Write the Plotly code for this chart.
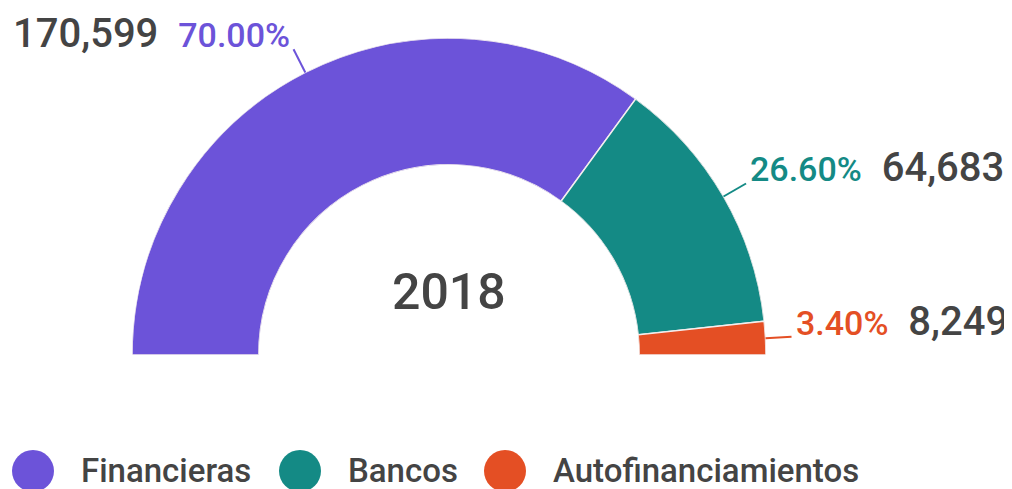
import math
import plotly.graph_objects as go

categories = ["Financieras", "Bancos", "Autofinanciamientos"]
values = [170599, 64683, 8249]
pct_labels = [70.00, 26.60, 3.40]
colors = ["#6c53d9", "#148a85", "#e44f24"]
year_label = "2018"

W, H = 1012, 489
OFF = 8  # the page body adds an 8px margin
cx, cy, R = 449, 355, 317
TXT = "#444444"
FONT = "Roboto"

total = sum(values)
widths = [v / total * 180 for v in values]
starts = [sum(widths[:i]) for i in range(len(widths))]
mids = [s + w / 2 for s, w in zip(starts, widths)]


def px(x, y):
    return (x - OFF) / W, 1 - (y - OFF) / H


fig = go.Figure()
for name, w, m, c in zip(categories, widths, mids, colors):
    fig.add_trace(
        go.Barpolar(
            r=[1],
            theta=[m],
            width=[w],
            name=name,
            marker=dict(color=c, line=dict(color="#f4eeee", width=1.5)),
            hoverinfo="name",
        )
    )

shapes = []
annotations = []
gap = "\u00a0\u00a0"
for m, val, pct, c in zip(mids, values, pct_labels, colors):
    a = math.radians(180 - m)
    x1, y1 = cx + R * math.cos(a), cy - R * math.sin(a)
    x2, y2 = cx + (R + 26) * math.cos(a), cy - (R + 26) * math.sin(a)
    p1, p2 = px(x1, y1), px(x2, y2)
    shapes.append(dict(type="line", xref="paper", yref="paper",
                       x0=p1[0], y0=p1[1], x1=p2[0], y1=p2[1],
                       line=dict(color=c, width=2)))
    pct_txt = f"<span style='color:{c};font-size:34px'>{pct:.2f}%</span>"
    val_txt = f"{val:,}"
    left = math.cos(a) < 0
    text = val_txt + gap + pct_txt if left else pct_txt + gap + val_txt
    annotations.append(dict(
        xref="paper", yref="paper", x=p2[0], y=p2[1],
        xanchor="right" if left else "left", yanchor="bottom",
        xshift=-2 if left else 2, yshift=-10,
        text=text, showarrow=False,
        font=dict(family=FONT, size=40, color=TXT, weight=500),
    ))

# year in the middle
yx, yy = px(cx, 292)
annotations.append(dict(
    xref="paper", yref="paper", x=yx, y=yy,
    text=year_label, showarrow=False,
    font=dict(family=FONT, size=50, color=TXT, weight=500),
))

# legend drawn by hand (big round swatches)
legend_x = [33, 300, 505]
for lx, name, c in zip(legend_x, categories, colors):
    x0, y0 = px(lx - 21, 450)
    x1, y1 = px(lx + 21, 492)
    shapes.append(dict(type="circle", xref="paper", yref="paper",
                       x0=x0, y0=y1, x1=x1, y1=y0,
                       fillcolor=c, line=dict(width=0)))
    tx, ty = px(lx + 46, 470)
    annotations.append(dict(
        xref="paper", yref="paper", x=tx, y=ty,
        xanchor="left", yanchor="middle", text=name, showarrow=False,
        font=dict(family=FONT, size=33, color=TXT, weight=500),
    ))

d0x, d0y = px(cx - R, cy)
d1x, d1y = px(cx + R, cy - R)
fig.update_layout(
    width=W,
    height=H,
    margin=dict(l=0, r=0, t=0, b=0),
    paper_bgcolor="white",
    showlegend=False,
    polar=dict(
        domain=dict(x=[d0x, d1x], y=[d0y, d1y]),
        sector=[0, 180],
        hole=0.6,
        bgcolor="rgba(0,0,0,0)",
        radialaxis=dict(range=[0, 1], visible=False),
        angularaxis=dict(rotation=180, direction="clockwise", visible=False,
                         showgrid=False),
        bargap=0,
    ),
    shapes=shapes,
    annotations=annotations,
)

fig.write_html("out.html")
